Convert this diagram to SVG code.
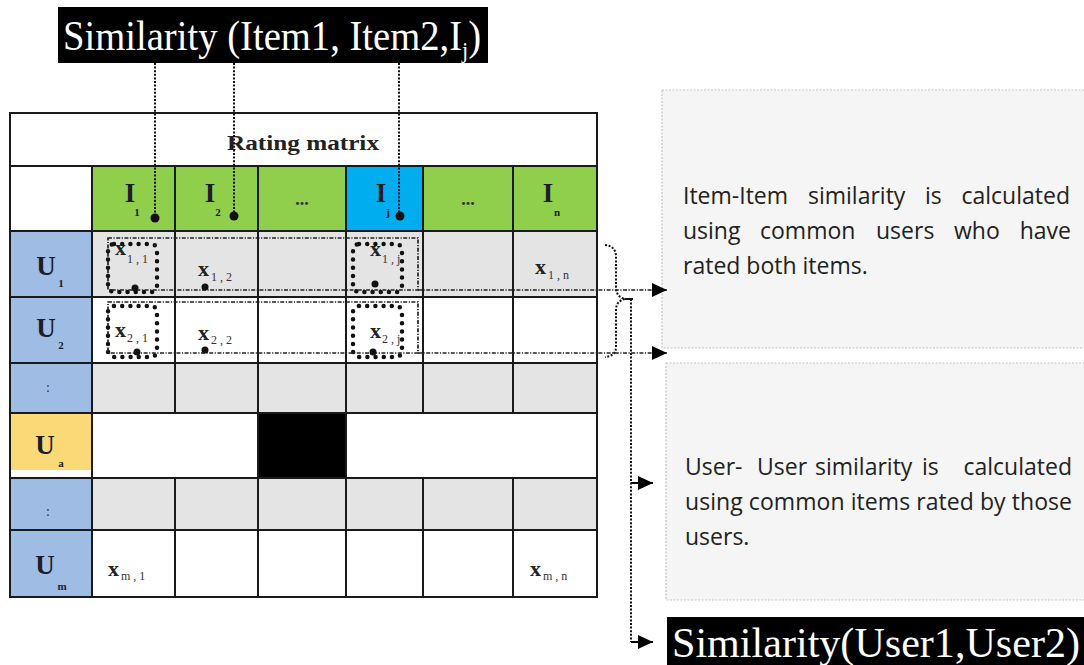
<svg xmlns="http://www.w3.org/2000/svg" width="1084" height="665" viewBox="0 0 1084 665">
  <style>
    .serif { font-family: "Liberation Serif", "DejaVu Serif", serif; }
    .sans { font-family: "Open Sans", "Noto Sans", "Liberation Sans", sans-serif; fill: #222; font-size: 23px; }
    .grid { stroke: #1a1a1a; stroke-width: 2; fill: none; }
    .lbl { font-family: "Liberation Serif", "DejaVu Serif", serif; font-size: 27px; font-weight: bold; fill: #1c1c2a; }
    .sub { font-family: "Liberation Serif", "DejaVu Serif", serif; font-size: 11px; font-weight: bold; fill: #1c1c2a; }
    .cellx { font-family: "Liberation Serif", "DejaVu Serif", serif; font-size: 22px; font-weight: bold; fill: #222; }
    .cellsub { font-family: "Liberation Serif", "DejaVu Serif", serif; font-size: 12px; fill: #333; }
    .green { fill: #8fcf4c; }
    .blue { fill: #9fbde4; }
    .gray { fill: #e4e4e4; }
    .dotline { stroke: #111; stroke-width: 2; stroke-dasharray: 2 1.6; fill: none; }
    .dashdot { stroke: #222; stroke-width: 1.7; stroke-dasharray: 4 1.5 1.2 1.5; fill: none; }
    .bigdots { stroke: #111; stroke-width: 4.5; stroke-dasharray: 0 8.2; stroke-linecap: round; fill: none; }
    .pin { fill: #111; }
    .note { fill: #f5f5f5; stroke: #c4c4c4; stroke-width: 1.2; stroke-dasharray: 2 1.5; }
  </style>
  <defs>
    <marker id="head" markerUnits="userSpaceOnUse" markerWidth="16" markerHeight="16" refX="15" refY="7" orient="auto">
      <path d="M0,0 L15,7 L0,14 Z" fill="#000"/>
    </marker>
  </defs>

  <rect width="1084" height="665" fill="#ffffff"/>

  <!-- Item similarity title -->
  <g id="title-items">
    <rect x="58" y="7" width="430" height="56" fill="#000"/>
    <text class="serif" transform="translate(63,50) scale(0.92,1)" font-size="42" fill="#fff">Similarity (Item1, Item2,I<tspan font-size="24" dy="8">j</tspan><tspan dy="-8">)</tspan></text>
  </g>

  <!-- Rating matrix table -->
  <g id="rating-matrix">
    <!-- fills -->
    <rect x="10" y="113" width="587" height="53" fill="#fff"/>
    <rect x="10" y="166" width="82" height="65" fill="#fff"/>
    <rect class="green" x="92" y="166" width="254" height="65"/>
    <rect x="346" y="166" width="77" height="65" fill="#00aeef"/>
    <rect class="green" x="423" y="166" width="174" height="65"/>

    <rect class="blue" x="10" y="231" width="82" height="182"/>
    <rect x="10" y="413" width="82" height="65" fill="#fbd977"/>
    <rect x="10" y="470" width="82" height="8" fill="#fff"/>
    <rect class="blue" x="10" y="478" width="82" height="119"/>

    <rect class="gray" x="92" y="231" width="505" height="66"/>
    <rect x="92" y="297" width="505" height="66" fill="#fff"/>
    <rect class="gray" x="92" y="363" width="505" height="50"/>
    <rect x="92" y="413" width="505" height="65" fill="#fff"/>
    <rect x="258" y="413" width="88" height="65" fill="#000"/>
    <rect class="gray" x="92" y="478" width="505" height="52"/>
    <rect x="92" y="530" width="505" height="67" fill="#fff"/>

    <!-- grid -->
    <path class="grid" d="M10,166 H597 M10,231 H597 M10,297 H597 M10,363 H597 M10,413 H597 M10,478 H597 M10,530 H597"/>
    <path class="grid" d="M92,166 V597 M175,166 V413 M175,478 V597 M258,166 V597 M346,166 V597 M423,166 V413 M423,478 V597 M513,166 V413 M513,478 V597"/>
    <rect class="grid" x="10" y="113" width="587" height="484" stroke-width="2.5"/>

    <text class="serif" x="303" y="150" font-size="20" font-weight="bold" fill="#222" text-anchor="middle" textLength="152" lengthAdjust="spacingAndGlyphs">Rating matrix</text>

    <!-- item headers -->
    <text class="lbl" x="130" y="202" text-anchor="middle">I</text><text class="sub" x="137" y="216" text-anchor="middle">1</text>
    <text class="lbl" x="210" y="202" text-anchor="middle">I</text><text class="sub" x="218" y="216" text-anchor="middle">2</text>
    <text class="serif" x="302" y="205" font-size="18" font-weight="bold" fill="#333" text-anchor="middle">...</text>
    <text class="lbl" x="381" y="202" text-anchor="middle">I</text><text class="sub" x="388" y="216" text-anchor="middle">j</text>
    <text class="serif" x="468" y="205" font-size="18" font-weight="bold" fill="#333" text-anchor="middle">...</text>
    <text class="lbl" x="548" y="202" text-anchor="middle">I</text><text class="sub" x="557" y="216" text-anchor="middle">n</text>

    <!-- user labels -->
    <text class="lbl" x="46" y="275" text-anchor="middle">U</text><text class="sub" x="61" y="287" text-anchor="middle">1</text>
    <text class="lbl" x="46" y="337" text-anchor="middle">U</text><text class="sub" x="61" y="349" text-anchor="middle">2</text>
    <text class="serif" x="48" y="392" font-size="14" fill="#333" text-anchor="middle">:</text>
    <text class="lbl" x="45" y="454" text-anchor="middle">U</text><text class="sub" x="61" y="467" text-anchor="middle">a</text>
    <text class="serif" x="48" y="516" font-size="14" fill="#333" text-anchor="middle">:</text>
    <text class="lbl" x="45" y="574" text-anchor="middle">U</text><text class="sub" x="62" y="590" text-anchor="middle">m</text>

    <!-- ratings -->
    <text class="cellx" x="115" y="255">x</text><text class="cellsub" x="127" y="263" fill="#8a6a3a">1 , 1</text>
    <text class="cellx" x="198" y="276">x</text><text class="cellsub" x="211" y="281">1 , 2</text>
    <text class="cellx" x="370" y="256">x</text><text class="cellsub" x="382" y="263" fill="#8a6a3a">1 , j</text>
    <text class="cellx" x="535" y="274">x</text><text class="cellsub" x="548" y="279">1 , n</text>
    <text class="cellx" x="115" y="337">x</text><text class="cellsub" x="127" y="342">2 , 1</text>
    <text class="cellx" x="198" y="340">x</text><text class="cellsub" x="211" y="344">2 , 2</text>
    <text class="cellx" x="370" y="338">x</text><text class="cellsub" x="382" y="343">2 , j</text>
    <text class="cellx" x="108" y="576">x</text><text class="cellsub" x="121" y="580">m , 1</text>
    <text class="cellx" x="530" y="576">x</text><text class="cellsub" x="543" y="580">m , n</text>
  </g>

  <!-- Explanatory notes (justified lines set word by word) -->
  <g id="note-item-item">
    <rect class="note" x="662" y="90" width="424" height="258"/>
    <text class="sans" x="683" y="204">Item-Item</text>
    <text class="sans" x="808" y="204">similarity</text>
    <text class="sans" x="925" y="204">is</text>
    <text class="sans" x="1070" y="204" text-anchor="end">calculated</text>
    <text class="sans" x="683" y="239">using</text>
    <text class="sans" x="760" y="239">common</text>
    <text class="sans" x="876" y="239">users</text>
    <text class="sans" x="954" y="239">who</text>
    <text class="sans" x="1071" y="239" text-anchor="end">have</text>
    <text class="sans" x="683" y="274">rated both items.</text>
  </g>

  <g id="note-user-user">
    <rect class="note" x="666" y="363" width="420" height="237" fill="#f2f2f2"/>
    <text class="sans" x="685" y="475">User-</text>
    <text class="sans" x="757" y="475">User</text>
    <text class="sans" x="815" y="475">similarity</text>
    <text class="sans" x="922" y="475">is</text>
    <text class="sans" x="1072" y="475" text-anchor="end">calculated</text>
    <text class="sans" x="685" y="510" textLength="387" lengthAdjust="spacing">using common items rated by those</text>
    <text class="sans" x="685" y="545">users.</text>
  </g>

  <!-- User similarity title -->
  <g id="title-users">
    <rect x="667" y="617" width="419" height="50" fill="#000"/>
    <text class="serif" x="672" y="657" font-size="42" fill="#fff" textLength="408" lengthAdjust="spacingAndGlyphs">Similarity(User1,User2)</text>
  </g>

  <!-- Connectors -->
  <g id="connectors">
    <!-- item columns picked from the title -->
    <path class="dotline" d="M155,63 V218 M234,63 V216 M399,63 V216"/>
    <circle class="pin" cx="155" cy="218" r="4.5"/>
    <circle class="pin" cx="234" cy="216" r="4.5"/>
    <circle class="pin" cx="400" cy="216" r="4.5"/>

    <!-- co-rated cells of the two item columns -->
    <rect class="bigdots" x="108" y="244" width="49" height="48" rx="6"/>
    <rect class="bigdots" x="108" y="306" width="49" height="51" rx="6"/>
    <rect class="bigdots" x="353" y="244" width="49" height="48" rx="6"/>
    <rect class="bigdots" x="353" y="306" width="49" height="51" rx="6"/>

    <!-- the two user rows -->
    <rect class="dashdot" x="108" y="238" width="310" height="52"/>
    <rect class="dashdot" x="108" y="302" width="310" height="51"/>
    <circle class="pin" cx="135" cy="288" r="3.5"/>
    <circle class="pin" cx="205" cy="287" r="3.5"/>
    <circle class="pin" cx="375" cy="284" r="3.5"/>
    <circle class="pin" cx="137" cy="352" r="3.5"/>
    <circle class="pin" cx="205" cy="350" r="3.5"/>
    <circle class="pin" cx="373" cy="352" r="3.5"/>

    <!-- rows to the item-item note -->
    <path class="dashdot" d="M418,290 H667" marker-end="url(#head)"/>
    <path class="dashdot" d="M418,353 H667" marker-end="url(#head)"/>

    <!-- brace grouping the two rows -->
    <path class="dotline" d="M605,245 Q616,246 616,257 V287 Q616,297 625,299 Q616,301 616,310 V347 Q616,356 605,357"/>
    <path d="M625,299 H633" stroke="#111" stroke-width="2"/>

    <!-- brace to the user-user note and the user similarity -->
    <path class="dotline" d="M631,299 V642"/>
    <path d="M631,483 H653" stroke="#000" stroke-width="2" marker-end="url(#head)"/>
    <path d="M631,642 H653" stroke="#000" stroke-width="2" marker-end="url(#head)"/>
  </g>
</svg>
